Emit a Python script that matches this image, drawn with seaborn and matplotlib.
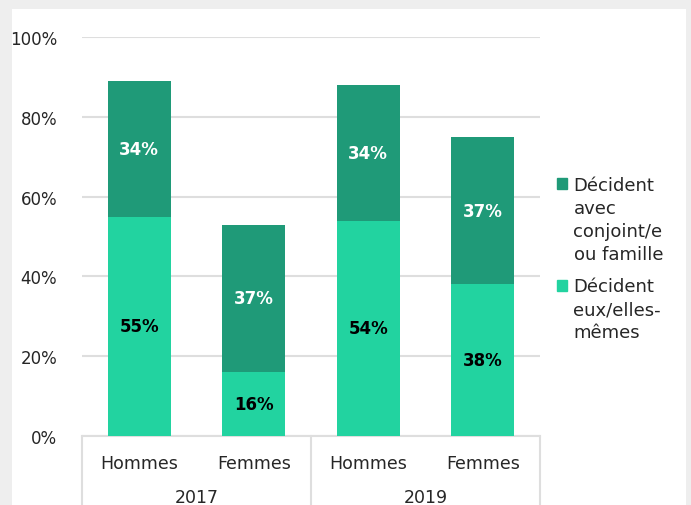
import numpy as np
import pandas as pd
import matplotlib.pyplot as plt
import seaborn as sns
from matplotlib.patches import Rectangle, Patch
from matplotlib.legend_handler import HandlerPatch
import matplotlib.transforms as mtransforms

categories = ['Hommes', 'Femmes', 'Hommes', 'Femmes']
years = ['2017', '2019']
eux_memes = [55, 16, 54, 38]
avec_conjoint = [34, 37, 34, 37]
legend_labels = ['Décident\navec\nconjoint/e\nou famille', 'Décident\neux/elles-\nmêmes']

sns.set_style('white')
plt.rcParams['font.family'] = ['DejaVu Sans']

dark = '#1F9A78'
light = '#22D3A0'
grid_c = '#DEDEDE'
text_c = '#262626'
LEG_FS = 13
LEG_LS = 1.35

df = pd.DataFrame({
    'pos': [f'{c}{i}' for i, c in enumerate(categories)],
    'bottom': eux_memes,
    'top': avec_conjoint,
})
df['total'] = df['bottom'] + df['top']

fig = plt.figure(figsize=(6.91, 5.06), dpi=100)
fig.patch.set_facecolor('#EEEEEE')
fig.patches.append(Rectangle((12 / 691, 0), (686 - 12) / 691, (506 - 10) / 506,
                             transform=fig.transFigure, facecolor='white',
                             edgecolor='none', zorder=-5))
ax = fig.add_axes([82 / 691, 69 / 506, 458 / 691, 399 / 506])
ax.set_facecolor('none')

sns.barplot(data=df, x='pos', y='total', color=dark, width=0.55, ax=ax,
            saturation=1, linewidth=0, zorder=3)
sns.barplot(data=df, x='pos', y='bottom', color=light, width=0.55, ax=ax,
            saturation=1, linewidth=0, zorder=4)

for i, (b, t) in enumerate(zip(eux_memes, avec_conjoint)):
    ax.text(i, b / 2, f'{b}%', ha='center', va='center', fontsize=12,
            fontweight='bold', color='black', zorder=5)
    ax.text(i, b + t / 2, f'{t}%', ha='center', va='center', fontsize=12,
            fontweight='bold', color='white', zorder=5)

ax.set_ylim(0, 100)
ax.set_xlim(-0.5, 3.5)
ax.set_yticks(range(0, 101, 20))
ax.set_yticklabels([f'{v}%' for v in range(0, 101, 20)], fontsize=12, color=text_c)
ax.yaxis.grid(True, color=grid_c, linewidth=1.5, zorder=0)
ax.set_axisbelow(True)
ax.tick_params(axis='y', length=0, pad=18)
ax.tick_params(axis='x', length=0, pad=13)
ax.set_xticks(range(4))
ax.set_xticklabels(categories, fontsize=12.5, color=text_c)
ax.set_xlabel('')
ax.set_ylabel('')
for s in ['left', 'right', 'top']:
    ax.spines[s].set_visible(False)
ax.spines['bottom'].set_color(grid_c)
ax.spines['bottom'].set_linewidth(1.5)

# grouped year axis
trans = mtransforms.blended_transform_factory(ax.transData, ax.transAxes)
for xs in [-0.5, 1.5, 3.5]:
    ax.plot([xs, xs], [0, -0.2], color=grid_c, lw=1.5, transform=trans,
            clip_on=False)
for j, y in enumerate(years):
    ax.text(0.5 + 2 * j, -0.152, y, ha='center', va='center', fontsize=12.5,
            color=text_c, transform=trans)


# legend squares aligned with the first line of each label
def top_square(legend, orig_handle, xdescent, ydescent, width, height, fontsize):
    n = orig_handle.get_label().count('\n')
    shift = n / 2 * LEG_FS * LEG_LS
    return Rectangle((-xdescent, -ydescent + shift), width, height)


handles = [Patch(color=dark, label=legend_labels[0]),
           Patch(color=light, label=legend_labels[1])]
leg = fig.legend(handles=handles, loc='upper left',
                 bbox_to_anchor=(541 / 691, 1 - 161 / 506),
                 frameon=False, fontsize=LEG_FS, handlelength=0.55, handleheight=0.55,
                 handletextpad=0.35, labelspacing=0.8, labelcolor=text_c,
                 handler_map={Patch: HandlerPatch(patch_func=top_square)})
for t in leg.get_texts():
    t.set_linespacing(LEG_LS)

fig.savefig('out.png', dpi=100, facecolor=fig.get_facecolor())
